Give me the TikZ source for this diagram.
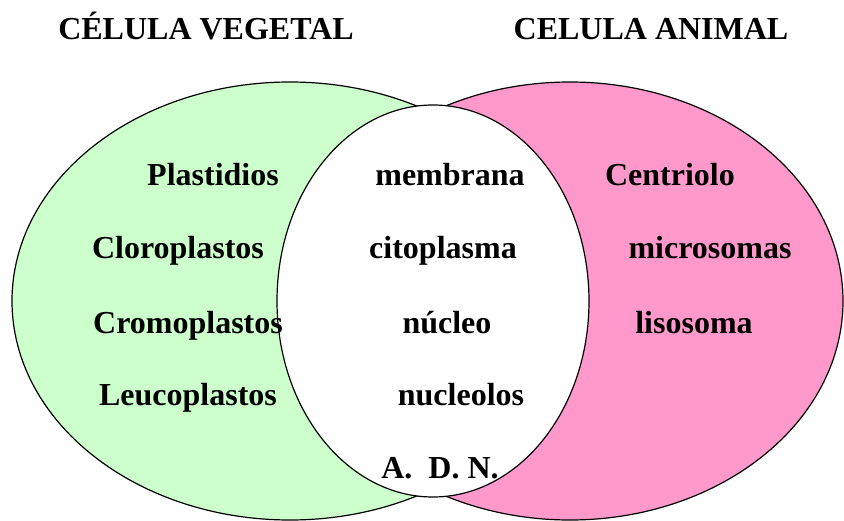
\documentclass[tikz,border=0pt]{standalone}
\usepackage{fontspec}
\setmainfont{Liberation Serif}
\usepackage{tikz}
\usetikzlibrary{positioning}

\definecolor{vegetalgreen}{HTML}{CCFFCC}
\definecolor{animalpink}{HTML}{FF99CC}

\begin{document}
\begin{tikzpicture}[x=0.75pt, y=-0.75pt,
    cellline/.style={draw=black, line width=0.9pt},
    celltext/.style={font=\fontsize{24}{28}\selectfont\bfseries, anchor=base, inner sep=0pt}]
\useasboundingbox (0,0) rectangle (844,521);
% Cells
\fill[vegetalgreen, cellline] (290,301) ellipse [x radius=208.5pt, y radius=164.25pt];
\fill[animalpink, cellline] (570,301) ellipse [x radius=204.75pt, y radius=164.25pt];
\fill[white, cellline] (433,301) ellipse [x radius=117pt, y radius=147pt];
% Titles
\node[celltext] (vegtitle) at (206,40) {CÉLULA VEGETAL};
\node[celltext] (anititle) at (651,40) {CELULA ANIMAL};
% Vegetal only
\foreach \x/\y/\nm/\lbl in {213/185/plast/Plastidios, 178/258/cloro/Cloroplastos,
                          188/333/cromo/Cromoplastos, 188/405/leuco/Leucoplastos} {
    \node[celltext] (\nm) at (\x,\y) {\lbl};
}
% Common
\foreach \x/\y/\nm/\lbl in {450/185/membr/membrana, 443/258/citop/citoplasma,
                          447/333/nucl/núcleo, 461/405/nucleol/nucleolos, 440/478/adn/A.\ \ D. N.} {
    \node[celltext] (\nm) at (\x,\y) {\lbl};
}
% Animal only
\foreach \x/\y/\nm/\lbl in {670/185/centr/Centriolo, 710/258/micro/microsomas, 694/333/liso/lisosoma} {
    \node[celltext] (\nm) at (\x,\y) {\lbl};
}
\end{tikzpicture}
\end{document}
